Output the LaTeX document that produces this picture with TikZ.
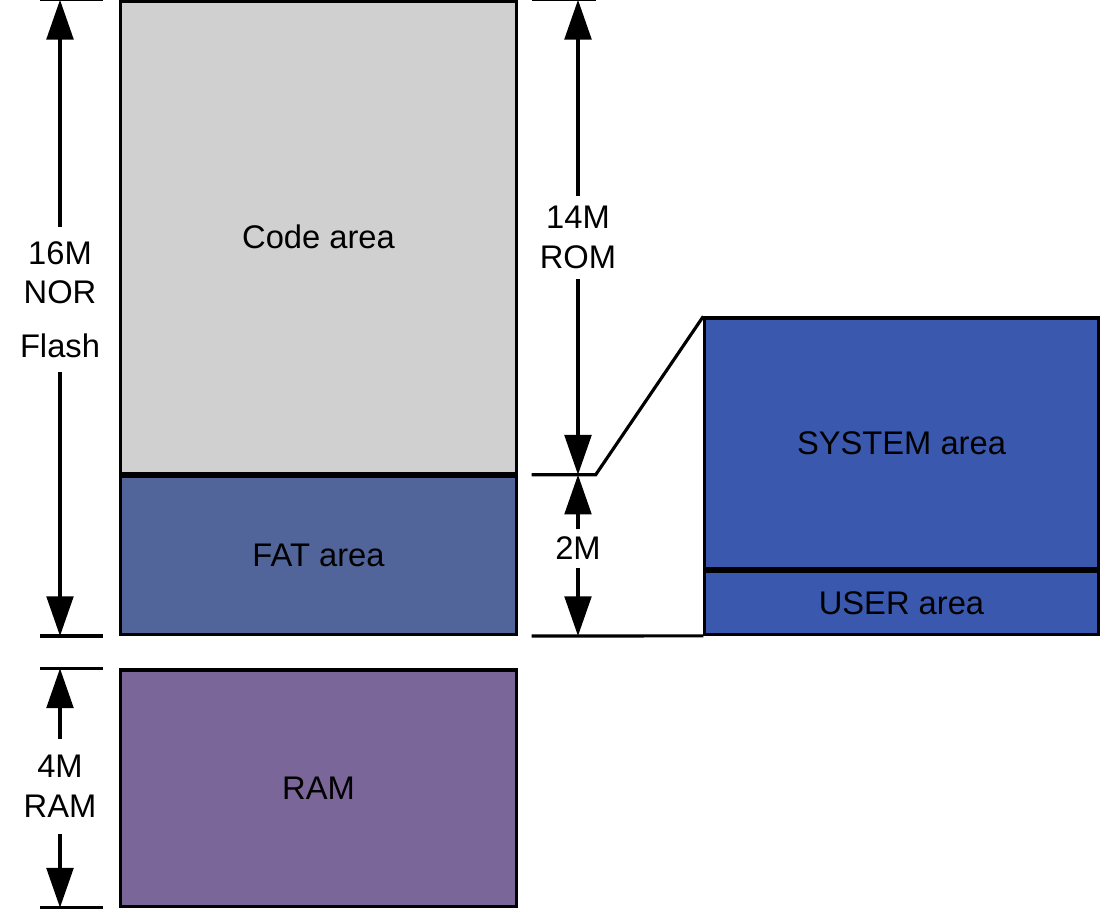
\documentclass[tikz,border=0pt]{standalone}
\usepackage{fontspec}
\setmainfont{Liberation Sans}
\usetikzlibrary{arrows.meta,calc}
\definecolor{codegray}{HTML}{D0D0D0}
\definecolor{fatblue}{HTML}{52659A}
\definecolor{sysblue}{HTML}{3A58AD}
\definecolor{rampurple}{HTML}{7A6699}
\begin{document}
\begin{tikzpicture}[x=0.01cm,y=-0.01cm,
	box/.style={draw,line width=0.9pt,inner sep=0pt,minimum width=3.95cm,font=\fontsize{9.3}{11.4}\selectfont},
	lbl/.style={align=center,inner xsep=0pt,font=\fontsize{9.3}{11.3}\selectfont},
	dim/.style={-{Triangle[width=7.6pt,length=11.3pt]},line width=0.9pt},
	tick/.style={line width=0.9pt}]
	\useasboundingbox (0,0) rectangle (1100,908);
	% memory blocks
	\node[box,fill=codegray,minimum height=4.715cm] (code) at (318.5,237.25) {Code area};
	\node[box,fill=fatblue,minimum height=1.58cm,anchor=north] (fat) at (code.south) {FAT area};
	\node[box,fill=rampurple,minimum height=2.36cm] (ram) at (318.5,788) {RAM};
	\node[box,fill=sysblue,minimum width=3.93cm,minimum height=2.5cm] (system) at (901.5,443) {SYSTEM area};
	\node[box,fill=sysblue,minimum width=3.93cm,minimum height=0.63cm,anchor=north] (user) at (system.south) {USER area};
	% ticks
	\draw[tick] ($(code.north west)+(-79,0)$) -- ($(code.north west)+(-16,0)$);
	\draw[tick] ($(fat.south west)+(-79,0)$) -- ($(fat.south west)+(-16,0)$);
	\draw[tick] ($(ram.north west)+(-79,0)$) -- ($(ram.north west)+(-16,0)$);
	\draw[tick] ($(ram.south west)+(-79,0)$) -- ($(ram.south west)+(-16,0)$);
	\draw[tick] ($(code.north east)+(14,0)$) -- ($(code.north east)+(78,0)$);
	\draw[tick] ($(code.south east)+(14,0)$) -- ($(code.south east)+(78,0)$) -- (system.north west);
	\draw[tick] ($(fat.south east)+(14,0)$) -- (user.south west);
	% dimension labels
	\node[lbl,inner ysep=4pt] (flash) at (60,299.5) {16M\\NOR\\[3.9pt]Flash};
	\node[lbl,inner ysep=2.8pt] (rom) at (578,237.5) {14M\\ROM};
	\node[lbl,inner ysep=2pt] (two) at (578,548.5) {2M};
	\node[lbl,inner ysep=4.5pt] (ramsize) at (60,786.5) {4M\\RAM};
	% dimension arrows
	\draw[dim] (flash.north) -- (flash.north |- code.north);
	\draw[dim] (flash.south) -- (flash.south |- fat.south);
	\draw[dim] (rom.north) -- (rom.north |- code.north);
	\draw[dim] (rom.south) -- (rom.south |- code.south);
	\draw[dim] (two.north) -- (two.north |- fat.north);
	\draw[dim] (two.south) -- (two.south |- fat.south);
	\draw[dim] (ramsize.north) -- (ramsize.north |- ram.north);
	\draw[dim] (ramsize.south) -- (ramsize.south |- ram.south);
\end{tikzpicture}
\end{document}
